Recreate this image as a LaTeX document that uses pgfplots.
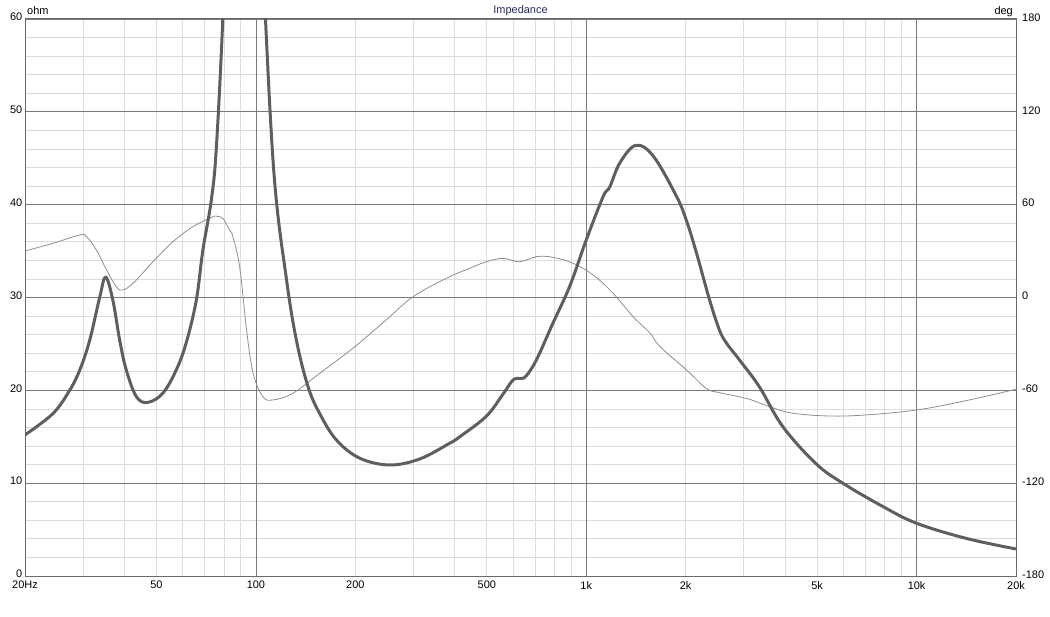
\documentclass[border=0pt]{standalone}
\usepackage{pgfplots}
\pgfplotsset{compat=1.18}
\usepackage{fontspec}
\setmainfont{Liberation Sans}

\definecolor{gridlight}{HTML}{DCDCDC}
\definecolor{griddark}{HTML}{7A7A7A}
\definecolor{axisc}{HTML}{6A6A6A}
\definecolor{zcol}{HTML}{5E5E5E}
\definecolor{pcol}{HTML}{8E8E8E}
\definecolor{titc}{HTML}{2A2A6A}

\begin{document}
\begin{tikzpicture}
\path[use as bounding box] (-25bp,-41bp) rectangle (1025bp,576bp);
\pgfplotsset{every axis/.append style={
  scale only axis, width=991bp, height=557bp, at={(0,0)}, anchor=south west,
  xmode=log, xmin=20, xmax=20000,
  font=\fontsize{11}{13}\selectfont,
  tick label style={font=\fontsize{11}{13}\selectfont},
  /pgf/number format/assume math mode=true,
  major tick length=0pt, minor tick length=0pt}}

% grid, frame and labels
\begin{axis}[name=main,
  ymin=0, ymax=60,
  ytick={0,10,20,30,40,50,60},
  minor ytick={2,4,6,8,12,14,16,18,22,24,26,28,32,34,36,38,42,44,46,48,52,54,56,58},
  xtick={20,50,100,200,500,1000,2000,5000,10000,20000},
  xticklabels={20Hz,50,100,200,500,1k,2k,5k,10k,20k},
  minor xtick={30,40,50,60,70,80,90,200,300,400,500,600,700,800,900,2000,3000,4000,5000,6000,7000,8000,9000},
  xminorgrids=true, yminorgrids=true, ymajorgrids=true, xmajorgrids=false,
  extra x ticks={100,1000,10000}, extra x tick labels={},
  extra x tick style={grid=major},
  minor grid style={gridlight, line width=0.8pt},
  major grid style={griddark, line width=0.8pt},
  axis line style={axisc, line width=1pt},
  yticklabel style={anchor=east, inner sep=1pt, xshift=-1.5bp, yshift=2bp},
  xticklabel style={inner sep=1pt, yshift=-4bp},
]
\addplot[draw=none] coordinates {(100,10)};
\end{axis}

% phase
\begin{axis}[
  ymin=-180, ymax=180,
  ytick={-180,-120,-60,0,60,120,180},
  axis x line=none, axis y line*=right,
  axis line style={draw=none},
  yticklabel style={anchor=west, inner sep=1pt, xshift=5bp, yshift=1.5bp},
]
\addplot[pcol, line width=0.8pt, smooth, tension=0.6] coordinates {
(20,30.1) (24.3,35.0) (29.3,40.4) (30.7,39.3) (32.9,30.7) (35.3,17.8)
(37.8,7.0) (39.4,4.8) (42.5,9.2) (48.8,23.1) (56.1,36.1) (64.5,45.8)
(74.2,52.2) (76.5,52.3) (79.4,51.2) (83.2,43.6) (85.2,39.3) (89.4,19.0)
(93.7,-21.0) (98.1,-49.0) (105,-64.1) (112.6,-66.2) (129.4,-61.9)
(156,-49.0) (196.6,-32.8) (248,-14.5) (299,0.5) (377,12.4) (444,18.9)
(498,23.1) (560,25.3) (628,23.1) (707,26.4) (792,26.0) (912,22.1)
(1050,14.5) (1206,2.7) (1386,-12.4) (1560,-23.1) (1674,-31.8)
(2010,-46.8) (2308,-58.7) (2530,-61.5) (2906,-64.1) (3127,-65.8)
(3593,-70.6) (4222,-74.8) (5460,-76.6) (7040,-75.9) (10000,-72.7)
(14100,-66.7) (20000,-59.3)
};
\end{axis}

% impedance
\begin{axis}[ymin=0, ymax=60, hide axis]
\addplot[zcol, line width=3pt, smooth, tension=0.6, line join=round] coordinates {
(20,15.2) (24.3,17.5) (27.3,20.0) (29.3,22.2) (31.4,25.4) (33.7,30.1)
(35.1,32.2) (36.9,29.7) (38.7,25.4) (40.5,22.2) (43.5,19.3) (47.1,18.7)
(52.3,19.7) (57.4,22.2) (61.5,25.1) (66.0,29.7) (69.1,35.1) (73.3,40.5)
(75.9,46.1) (79.4,60) (82,75) (86,100) (92,130) (98,100) (103,75)
(106.9,60) (113.8,42.7) (123.8,31.9) (132.6,25.4)
(143.8,20.4) (156,17.5) (175.3,14.65) (206,12.7) (253.8,11.96)
(313,12.6) (386,14.3) (414,15.0) (498,17.2) (560,19.6) (600,21.1)
(630,21.3) (656,21.5) (707,23.3) (792,27.2) (891,31.2) (1000,36.2)
(1126,40.9) (1178,41.9) (1264,44.5) (1414,46.4) (1598,45.2) (1876,40.9)
(2010,38.3) (2156,34.8) (2364,29.7) (2530,26.5) (2656,25.1) (2906,23.3)
(3340,20.4) (3935,16.1) (4960,12.1) (5980,10.0) (7920,7.47)
(10000,5.68) (14100,4.06) (20000,2.91)
};
\end{axis}

\node[anchor=base west, inner sep=0pt, font=\fontsize{11}{13}\selectfont] at ([xshift=2bp, yshift=4bp]main.north west) {ohm};
\node[anchor=base, inner sep=0pt, text=titc, font=\fontsize{11}{13}\selectfont] at ([yshift=5bp]main.north) {Impedance};
\node[anchor=base east, inner sep=0pt, font=\fontsize{11}{13}\selectfont] at ([xshift=-3bp, yshift=4bp]main.north east) {deg};
\end{tikzpicture}
\end{document}
